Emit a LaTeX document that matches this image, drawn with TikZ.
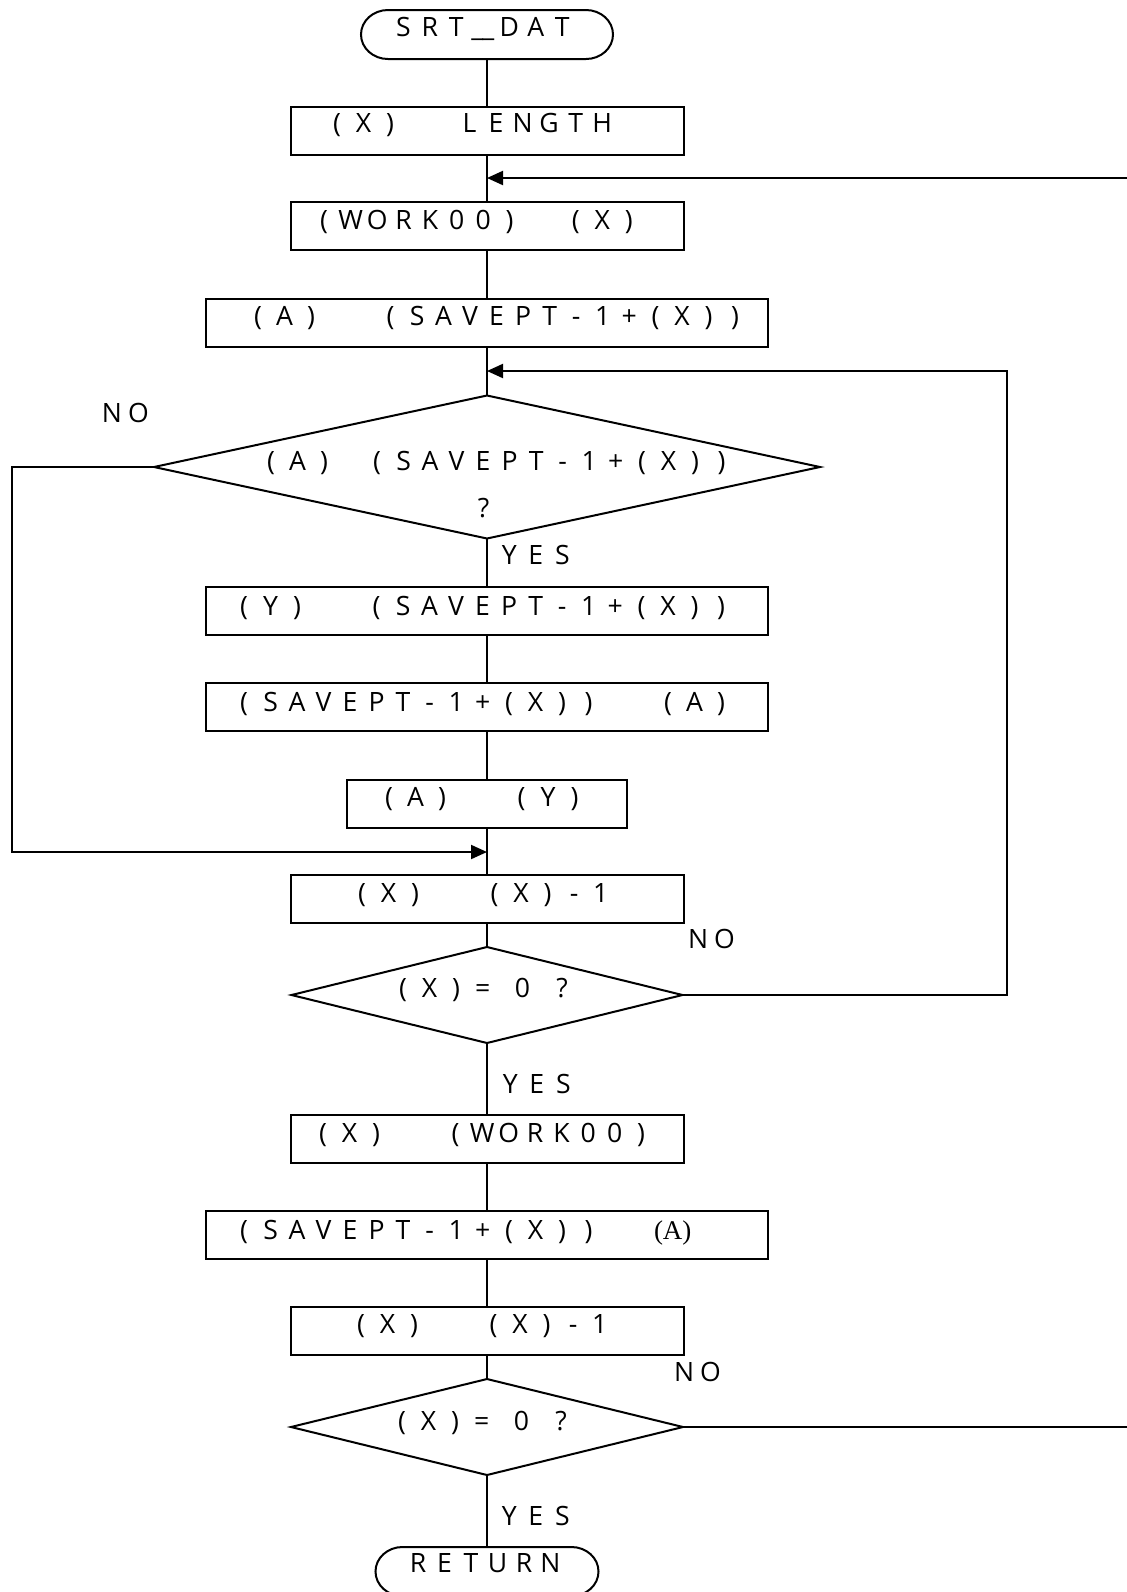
\documentclass[tikz,border=0pt]{standalone}
\usepackage{fontspec}
\setmainfont{Open Sans}
\newfontfamily\serifA{Liberation Serif}
\usetikzlibrary{shapes.geometric,arrows.meta}
\newlength\cellw \setlength\cellw{6.625pt}
\def\monoloop#1{\ifx#1\relax\else\makebox[\cellw][c]{#1}\expandafter\monoloop\fi}
\newcommand\mono[1]{\monoloop#1\relax}
\newcommand\dus{\_\kern-0.5pt\_}
\newcommand\termoutline[1]{%
  \draw[line width=1pt] ([xshift=13.5pt]#1.north west) -- ([xshift=-13.5pt]#1.north east)
    arc[start angle=90,end angle=-90,x radius=13.5pt,y radius=12.25pt]
    -- ([xshift=13.5pt]#1.south west)
    arc[start angle=270,end angle=90,x radius=13.5pt,y radius=12.25pt] -- cycle;}
\begin{document}
\begin{tikzpicture}[x=0.5pt,y=-0.5pt,
  every node/.style={inner sep=0pt,outer sep=0pt},
  procbox/.style={draw,rectangle,line width=1pt,minimum height=24pt},
  wide/.style={procbox,minimum width=281pt},
  med/.style={procbox,minimum width=196.5pt},
  term/.style={rectangle,minimum height=24.5pt},
  decis/.style={draw,diamond,line width=1pt},
  lbl/.style={anchor=base west,font=\fontsize{13.3pt}{16pt}\selectfont},
  conn/.style={line width=1pt},
  arr/.style={conn,-{Triangle[length=8pt,width=7pt]}}]
\path[use as bounding box] (0,0) rectangle (1127,1592);
\clip (0,0) rectangle (1127,1592);

% shapes
\node[term,minimum width=126pt] (t1) at (487,34.5) {};
\termoutline{t1}
\node[med] (b1) at (487,131) {};
\node[med] (b2) at (487,226) {};
\node[wide] (b3) at (487,323) {};
\node[decis,minimum width=333pt,minimum height=71.5pt] (d1) at (487,467) {};
\node[wide] (b4) at (487,611) {};
\node[wide] (b5) at (487,707) {};
\node[procbox,minimum width=140pt] (b6) at (487,804) {};
\node[med] (b7) at (487,899) {};
\node[decis,minimum width=195.5pt,minimum height=48pt] (d2) at (487,995) {};
\node[med] (b8) at (487,1139) {};
\node[wide] (b9) at (487,1235) {};
\node[med] (b10) at (487,1331) {};
\node[decis,minimum width=196pt,minimum height=48pt] (d3) at (487,1427) {};
\node[term,minimum width=111.5pt] (t2) at (487,1571.5) {};
\termoutline{t2}

% texts
\node[lbl] (t1x) at (396.7,36) {\mono{S~R~T~\dus~D~A~T}};
\node[lbl] (b1x) at (330.5,132) {\mono{(~X~)~~~~~L~E~N~G~T~H}};
\node[lbl] (b2x) at (317.5,229) {\mono{(~W~O~R~K~0~0~)~~~~(~X~)}};
\node[lbl] (b3x) at (251.5,325) {\mono{(~A~)~~~~~(~S~A~V~E~P~T~-~1~+~(~X~)~)}};
\node[lbl] (d1x) at (264.5,470) {\mono{(~A~)~~~(~S~A~V~E~P~T~-~1~+~(~X~)~)}};
\node[lbl] (d1q) at (477,517) {\mono{?}};
\node[lbl] (no1) at (105.4,422) {\mono{N~O}};
\node[lbl] (yes1) at (502.7,564) {\mono{Y~E~S}};
\node[lbl] (b4x) at (237.5,615) {\mono{(~Y~)~~~~~(~S~A~V~E~P~T~-~1~+~(~X~)~)}};
\node[lbl] (b5x) at (237.5,711) {\mono{(~S~A~V~E~P~T~-~1~+~(~X~)~)~~~~~(~A~)}};
\node[lbl] (b6x) at (382.5,806) {\mono{(~A~)~~~~~(~Y~)}};
\node[lbl] (b7x) at (355.5,902) {\mono{(~X~)~~~~~(~X~)~-~1}};
\node[lbl] (no2) at (691.4,948) {\mono{N~O}};
\node[lbl] (d2x) at (396.5,997) {\mono{(~X~)~=~~0~~?}};
\node[lbl] (yes2) at (503.7,1093) {\mono{Y~E~S}};
\node[lbl] (b8x) at (316.5,1142) {\mono{(~X~)~~~~~(~W~O~R~K~0~0~)}};
\node[lbl] (b9x) at (237.5,1239) {\mono{(~S~A~V~E~P~T~-~1~+~(~X~)~)}};
\node[anchor=base west,font=\serifA\fontsize{13.5pt}{16pt}\selectfont] (b9a) at (654,1239) {(A)};
\node[lbl] (b10x) at (354.5,1333) {\mono{(~X~)~~~~~(~X~)~-~1}};
\node[lbl] (no3) at (677.4,1381) {\mono{N~O}};
\node[lbl] (d3x) at (395.5,1430) {\mono{(~X~)~=~~0~~?}};
\node[lbl] (yes3) at (502.7,1525) {\mono{Y~E~S}};
\node[lbl] (t2x) at (411.4,1572) {\mono{R~E~T~U~R~N}};

% coordinates for loose ends and joins
\coordinate (m1) at (487,178);
\coordinate (e1) at (1127,178);
\coordinate (m2) at (487,371);
\coordinate (r2) at (1007,371);
\coordinate (m3) at (487,852);
\coordinate (l3) at (12,852);
\coordinate (e3) at (1127,1427);

% connectors
\draw[conn] (t1.south) -- (b1.north);
\draw[conn] (b1.south) -- (b2.north);
\draw[conn] (b2.south) -- (b3.north);
\draw[conn] (b3.south) -- (d1.north);
\draw[conn] (d1.south) -- (b4.north);
\draw[conn] (b4.south) -- (b5.north);
\draw[conn] (b5.south) -- (b6.north);
\draw[conn] (b6.south) -- (b7.north);
\draw[conn] (b7.south) -- (d2.north);
\draw[conn] (d2.south) -- (b8.north);
\draw[conn] (b8.south) -- (b9.north);
\draw[conn] (b9.south) -- (b10.north);
\draw[conn] (b10.south) -- (d3.north);
\draw[conn] (d3.south) -- (t2.north);
\draw[arr] (e1) -- (m1);
\draw[arr] (d2.east) -| (r2) -- (m2);
\draw[arr] (d1.west) -| (l3) -- (m3);
\draw[conn] (d3.east) -- (e3);
\end{tikzpicture}
\end{document}
